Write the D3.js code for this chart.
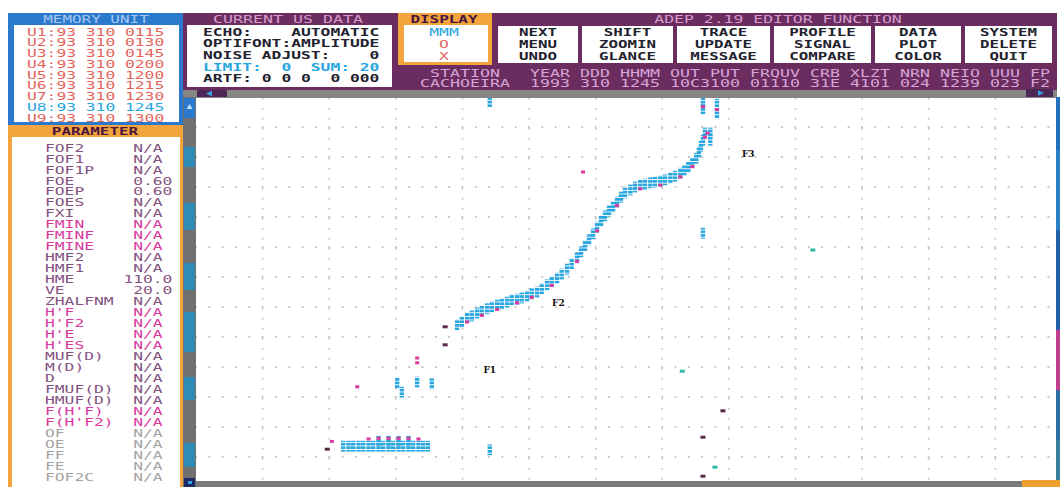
<!DOCTYPE html>
<html><head><meta charset="utf-8">
<script src="https://cdn.jsdelivr.net/npm/d3@7"></script>
<style>
html,body{margin:0;padding:0;background:#fff;}
svg{display:block;}
</style></head><body>
<svg id="screen" width="1060" height="487"></svg>
<script>
// ---------- memory unit list ----------
const memoryUnits = ["U1","U2","U3","U4","U5","U6","U7","U8","U9"];
const memoryYear = "93";
const memoryDay = "310";
const memoryTimes = ["0115","0130","0145","0200","1200","1215","1230","1245","1300"];
const activeUnit = "U8";

// ---------- current US data ----------
const usDataLines = ["ECHO:    AUTOMATIC","OPTIFONT:AMPLITUDE","NOISE ADJUST:    0","LIMIT:  0  SUM: 20","ARTF: 0 0 0  0 000"];
const usDataHighlight = [false,false,false,true,false];

// ---------- display modes ----------
const displayModes = ["MMM","O","X"];

// ---------- editor function buttons (column by column) ----------
const buttonColumns = [
  ["NEXT","MENU","UNDO"],
  ["SHIFT","ZOOMIN","GLANCE"],
  ["TRACE","UPDATE","MESSAGE"],
  ["PROFILE","SIGNAL","COMPARE"],
  ["DATA","PLOT","COLOR"],
  ["SYSTEM","DELETE","QUIT"]
];

// ---------- station header ----------
const stationFields = ["STATION","YEAR","DDD","HHMM","OUT PUT","FRQUV","CRB","XLZT","NRN","NEIO","UUU","FP"];
const stationValues = ["CACHOEIRA","1993","310","1245","10C3100","01110","31E","4101","024","1239","023","F2"];

// ---------- scaled parameters ----------
const paramNames = ["FOF2","FOF1","FOF1P","FOE","FOEP","FOES","FXI","FMIN","FMINF","FMINE",
  "HMF2","HMF1","HME","VE","ZHALFNM","H'F","H'F2","H'E","H'ES","MUF(D)","M(D)","D",
  "FMUF(D)","HMUF(D)","F(H'F)","F(H'F2)","OF","OE","FF","FE","FOF2C"];
const paramValues = ["N/A","N/A","N/A","0.60","0.60","N/A","N/A","N/A","N/A","N/A",
  "N/A","N/A","110.0","20.0","N/A","N/A","N/A","N/A","N/A","N/A","N/A","N/A",
  "N/A","N/A","N/A","N/A","N/A","N/A","N/A","N/A","N/A"];
// a = standard, m = height/minimum group, g = inactive
const paramGroups = ["a","a","a","a","a","a","a","m","m","m",
  "a","a","a","a","a","m","m","m","m","a","a","a",
  "a","a","m","m","g","g","g","g","g"];

// ---------- ionogram axes (MHz, km) ----------
const freqGrid = [2,3,4,5,6,7,8,9,10,11,12,13];
const heightGrid = [100,150,200,250,300,350,400,450,500,550,600,650];

// ---------- echoes [frequency MHz, virtual height km] ----------
const cyanEchoes = [
  // F trace
  [4.92,320],[4.99,325],[5.07,332],[5.14,335],[5.22,340],[5.29,343],[5.37,347],[5.44,350],
  [5.52,353],[5.59,355],[5.67,358],[5.74,362],[5.82,363],[5.89,365],[5.97,368],[6.04,372],
  [6.12,375],[6.19,380],[6.27,387],[6.34,392],[6.42,398],[6.49,405],[6.57,413],[6.64,422],
  [6.72,432],[6.78,442],[6.84,452],[6.90,462],[6.96,472],[7.02,483],[7.08,493],[7.14,502],
  [7.20,510],[7.26,517],[7.32,525],[7.38,533],[7.44,540],[7.52,545],[7.59,550],[7.67,553],
  [7.74,555],[7.82,557],[7.89,558],[7.97,560],[8.04,562],[8.12,565],[8.19,568],[8.27,573],
  [8.33,578],[8.39,583],[8.45,590],[8.51,598],[8.55,608],[8.58,618],[8.61,628],[8.64,640],
  [8.72,640],[8.72,628],[8.61,690],[8.61,680],[8.82,688],[8.82,674],
  // E region
  [3.21,118],[3.29,118],[3.36,118],[3.44,118],[3.51,118],[3.59,118],[3.66,118],[3.74,118],
  [3.81,118],[3.89,118],[3.96,118],[4.04,118],[4.11,118],[4.19,118],[4.26,118],[4.34,118],
  [4.41,118],[4.48,118],[3.74,126],[3.89,126],[4.04,126],[4.19,126],
  // isolated
  [4.02,223],[4.09,208],[4.32,225],[4.54,222],[5.41,112],[5.41,692],[8.61,473]
];
const magentaEchoes = [
  [5.07,325],[5.29,336],[5.52,346],[5.82,357],[6.04,366],[6.34,386],[6.72,426],[7.02,477],
  [7.32,519],[7.67,547],[7.97,553],[8.27,567],[8.45,584],[8.64,633],[8.68,640],[8.82,679],[8.61,684],
  [3.04,126],[3.59,130],[3.74,131],[3.89,131],[4.04,131],[4.19,131],[4.34,130],
  [3.42,217],[4.32,257],[4.32,265],[6.81,575]
];
const darkEchoes = [[4.74,287],[4.74,317],[8.91,177],[8.61,133],[8.61,68],[2.97,113]];
const tealEchoes = [[8.30,243],[8.79,83],[10.26,445]];
const layerLabels = [["F1",5.41,245],["F2",6.44,357],["F3",9.29,605]];

// ---------- palette ----------
const C = {
  purple:"#6b2c60", blue:"#2b79cc", orange:"#f3a43c", grey:"#858585",
  headerPink:"#d59ccc", headerBlue:"#a6c6f2", salmon:"#e4645a", cyan:"#27a6e0",
  ink:"#22222e", magenta:"#d83a9e", mauve:"#84527f", inactive:"#a4a4a4"
};

const svg = d3.select("#screen");

function mono(g, str, x0, yc, o) {
  const pitch = o.pitch || 9.8;
  return g.append("text")
    .attr("x", x0).attr("y", yc + 3.6)
    .attr("font-family", "'DejaVu Sans Mono', monospace")
    .attr("font-size", o.size || 10)
    .attr("font-weight", o.weight || "normal")
    .attr("fill", o.color)
    .attr("text-anchor", o.anchor || "start")
    .attr("textLength", str.length * pitch)
    .attr("lengthAdjust", "spacingAndGlyphs")
    .attr("xml:space", "preserve")
    .style("white-space", "pre")
    .text(str);
}

// ---------- background frames ----------
const frame = svg.append("g");
frame.append("rect").attr("x",183).attr("y",13).attr("width",874).attr("height",78).attr("fill",C.purple);

// memory unit panel
frame.append("rect").attr("x",8).attr("y",13).attr("width",175).attr("height",112).attr("fill",C.blue);
frame.append("rect").attr("x",14).attr("y",25).attr("width",165).attr("height",97).attr("fill","#fff");
mono(frame, "MEMORY UNIT", 96, 19, {color:C.headerBlue, anchor:"middle", pitch:9.6});
memoryUnits.forEach((u,i) => {
  const s = u + ":" + memoryYear + " " + memoryDay + " " + memoryTimes[i];
  mono(frame, s, 27, 32 + i*10.75, {color: u === activeUnit ? C.cyan : C.salmon});
});

// parameter panel
frame.append("rect").attr("x",8).attr("y",125).attr("width",175).attr("height",362).attr("fill",C.orange);
frame.append("rect").attr("x",12).attr("y",137).attr("width",168).attr("height",350).attr("fill","#fff");
mono(frame, "PARAMETER", 95, 131, {color:"#4a1440", anchor:"middle", weight:"bold", pitch:9.6});
const groupColor = {a:C.mauve, m:C.magenta, g:C.inactive};
paramNames.forEach((n,i) => {
  const v = paramValues[i];
  const s = n.padEnd(8) + (v.length < 4 ? v + " " : v).padStart(5);
  mono(frame, s, 45, 148 + i*10.97, {color: groupColor[paramGroups[i]]});
});

// current US data panel
frame.append("rect").attr("x",187).attr("y",25).attr("width",205).attr("height",62).attr("fill","#fff");
mono(frame, "CURRENT US DATA", 288, 19, {color:C.headerPink, anchor:"middle", pitch:10});
usDataLines.forEach((s,i) => {
  mono(frame, s, 203, 32 + i*11.7, {color: usDataHighlight[i] ? C.cyan : C.ink, weight:"bold"});
});

// display panel
frame.append("rect").attr("x",398).attr("y",13).attr("width",94).attr("height",52).attr("fill",C.orange);
frame.append("rect").attr("x",404).attr("y",25).attr("width",84).attr("height",37).attr("fill","#fff");
mono(frame, "DISPLAY", 444, 19, {color:"#4a1440", anchor:"middle", weight:"bold", pitch:9.6});
displayModes.forEach((m,i) => {
  mono(frame, m, 444, 32 + i*12, {color: i === 0 ? C.cyan : C.salmon, anchor:"middle"});
});

// editor function
mono(frame, "ADEP 2.19 EDITOR FUNCTION", 778, 19, {color:C.headerPink, anchor:"middle", pitch:9.9});
const buttonEdges = [498,582,677,774,875,965,1056];
buttonColumns.forEach((col,i) => {
  const x0 = buttonEdges[i], x1 = buttonEdges[i+1] - 4;
  frame.append("rect").attr("x",x0).attr("y",26).attr("width",x1-x0).attr("height",37).attr("fill","#fff");
  col.forEach((w,j) => mono(frame, w, (x0+x1)/2, 32 + j*12, {color:C.ink, anchor:"middle", weight:"bold", pitch:9.5}));
});

// station header rows
function padCenter(s, w){ const l = Math.floor((w - s.length)/2); return " ".repeat(l) + s + " ".repeat(w - s.length - l); }
const widths = stationFields.map((f,i) => Math.max(f.length, stationValues[i].length));
const rowA = stationFields.map((f,i) => padCenter(f, widths[i]));
const rowB = stationValues.map((v,i) => padCenter(v, widths[i]));
const joinRow = r => r[0] + "  " + r.slice(1).join(" ");
mono(frame, joinRow(rowA), 420, 73, {color:"#d6a6d6", pitch:10});
mono(frame, joinRow(rowB), 420, 83, {color:"#d6a6d6", pitch:10});

// scroll bars
frame.append("rect").attr("x",183).attr("y",90).attr("width",874).attr("height",8).attr("fill",C.grey);
frame.append("rect").attr("x",197).attr("y",90).attr("width",30).attr("height",7).attr("fill","#4c2756");
frame.append("path").attr("d","M206,93.5 L212,90.8 L212,96.2 Z").attr("fill","#3aa0e8");
frame.append("rect").attr("x",1026).attr("y",89).attr("width",27).attr("height",8).attr("fill","#4c2756");
frame.append("path").attr("d","M1044,93 L1038,90.3 L1038,95.7 Z").attr("fill","#3aa0e8");

frame.append("rect").attr("x",183).attr("y",97).attr("width",13).attr("height",390).attr("fill","#707070");
[[147,20],[203,27],[263,27],[312,40],[377,23],[443,24]].forEach(s =>
  frame.append("rect").attr("x",184).attr("y",s[0]).attr("width",11).attr("height",s[1]).attr("fill","#2f8db5"));
frame.append("rect").attr("x",184).attr("y",98).attr("width",11).attr("height",20).attr("fill",C.blue);
frame.append("path").attr("d","M189.5,104 L186.5,109 L192.5,109 Z").attr("fill","#bfe0ff");
frame.append("rect").attr("x",184).attr("y",478).attr("width",11).attr("height",9).attr("fill","#1c2a66");
frame.append("rect").attr("x",188).attr("y",481).attr("width",4).attr("height",3).attr("fill","#3aa0e8");

// ---------- ionogram ----------
const x = d3.scaleLinear().domain([1,14]).range([196,1062]);
const y = d3.scaleLinear().domain([60,700]).range([481,97]);

svg.append("defs").append("clipPath").attr("id","plotClip")
  .append("rect").attr("x",196).attr("y",98).attr("width",860).attr("height",383);
const defs = svg.select("defs");
const stripe = defs.append("pattern").attr("id","cyanStack").attr("patternUnits","userSpaceOnUse")
  .attr("width",5).attr("height",3.6);
stripe.append("rect").attr("width",5).attr("height",2.7).attr("fill",C.cyan);

const plot = svg.append("g").attr("clip-path","url(#plotClip)");
plot.append("rect").attr("x",196).attr("y",98).attr("width",860).attr("height",383).attr("fill","#fff");

plot.selectAll("line.hg").data(heightGrid).join("line").attr("class","hg")
  .attr("x1",196).attr("x2",1056).attr("y1",d=>y(d)).attr("y2",d=>y(d))
  .attr("stroke","#b8b8b8").attr("stroke-width",1.6)
  .attr("stroke-dasharray","2 11.32").attr("stroke-dashoffset",1);
plot.selectAll("line.fg").data(freqGrid).join("line").attr("class","fg")
  .attr("x1",d=>x(d)).attr("x2",d=>x(d)).attr("y1",98).attr("y2",481)
  .attr("stroke","#b8b8b8").attr("stroke-width",1.4)
  .attr("stroke-dasharray","1.5 8.5");

plot.selectAll("rect.cy").data(cyanEchoes).join("rect").attr("class","cy")
  .attr("x",d=>x(d[0])-2.2).attr("y",d=>y(d[1])-5.4).attr("width",4.4).attr("height",10.8)
  .attr("fill","url(#cyanStack)");
plot.selectAll("rect.mg").data(magentaEchoes).join("rect").attr("class","mg")
  .attr("x",d=>x(d[0])-2).attr("y",d=>y(d[1])-1.5).attr("width",4).attr("height",3)
  .attr("fill",C.magenta);
plot.selectAll("rect.dk").data(darkEchoes).join("rect").attr("class","dk")
  .attr("x",d=>x(d[0])-2.5).attr("y",d=>y(d[1])-1.5).attr("width",5).attr("height",3)
  .attr("fill","#5a2a4a");
plot.selectAll("rect.tl").data(tealEchoes).join("rect").attr("class","tl")
  .attr("x",d=>x(d[0])-2.5).attr("y",d=>y(d[1])-1.5).attr("width",5).attr("height",3)
  .attr("fill","#2fb8a8");
plot.selectAll("text.lay").data(layerLabels).join("text").attr("class","lay")
  .attr("x",d=>x(d[1])).attr("y",d=>y(d[2])+3)
  .attr("text-anchor","middle").attr("font-family","'DejaVu Serif', serif")
  .attr("font-weight","bold").attr("font-size",9).attr("fill","#111")
  .text(d=>d[0]);

// right edge and bottom bar
[[97,"#2470c0"],[150,"#2a80c4"],[230,"#2262a8"],[330,"#c23d8e"],[390,"#2f6fa4"],[440,"#3a7f9f"]].forEach((s,i,a) => {
  const end = i < a.length-1 ? a[i+1][0] : 481;
  svg.append("rect").attr("x",1056).attr("y",s[0]).attr("width",4).attr("height",end-s[0]).attr("fill",s[1]);
});
svg.append("rect").attr("x",196).attr("y",481).attr("width",864).attr("height",6).attr("fill","#7a7a7a");
svg.append("rect").attr("x",1022).attr("y",480).attr("width",38).attr("height",7).attr("fill","#f0a030");
</script>
</body></html>
